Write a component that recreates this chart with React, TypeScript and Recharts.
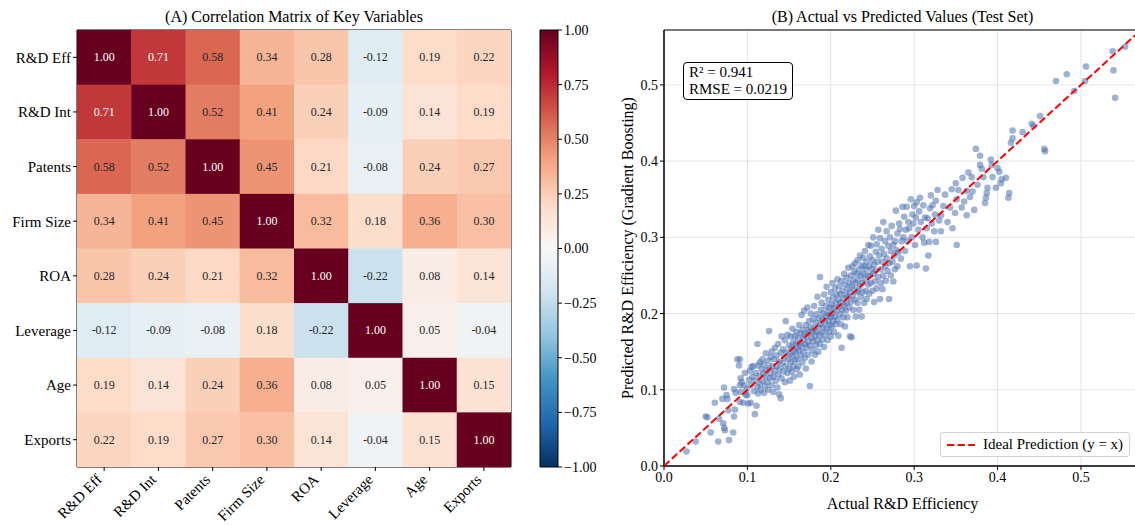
import {
  ScatterChart, Scatter, BarChart, Bar, XAxis, YAxis, CartesianGrid,
  ReferenceArea, Legend,
} from 'recharts';

const FONT = '"Liberation Serif", "Times New Roman", serif';

// ── Panel A data ──────────────────────────────────────────────────────────────

const variables = ['R&D Eff', 'R&D Int', 'Patents', 'Firm Size', 'ROA', 'Leverage', 'Age', 'Exports'];

const corrRows = [
  [1.00, 0.71, 0.58, 0.34, 0.28, -0.12, 0.19, 0.22],
  [0.71, 1.00, 0.52, 0.41, 0.24, -0.09, 0.14, 0.19],
  [0.58, 0.52, 1.00, 0.45, 0.21, -0.08, 0.24, 0.27],
  [0.34, 0.41, 0.45, 1.00, 0.32, 0.18, 0.36, 0.30],
  [0.28, 0.24, 0.21, 0.32, 1.00, -0.22, 0.08, 0.14],
  [-0.12, -0.09, -0.08, 0.18, -0.22, 1.00, 0.05, -0.04],
  [0.19, 0.14, 0.24, 0.36, 0.08, 0.05, 1.00, 0.15],
  [0.22, 0.19, 0.27, 0.30, 0.14, -0.04, 0.15, 1.00],
];

const colorbarTicks = [-1, -0.75, -0.5, -0.25, 0, 0.25, 0.5, 0.75, 1];

// ── Panel B data (actual, predicted) ──────────────────────────────────────────

const lowPoints = [
  [0.027, 0.019], [0.038, 0.032], [0.050, 0.065], [0.052, 0.064], [0.056, 0.044], [0.061, 0.083],
  [0.065, 0.032], [0.066, 0.062], [0.070, 0.088], [0.071, 0.056], [0.072, 0.050], [0.073, 0.047],
  [0.072, 0.103], [0.075, 0.093], [0.076, 0.088], [0.078, 0.034], [0.077, 0.073], [0.083, 0.044],
  [0.084, 0.065], [0.084, 0.101], [0.085, 0.074], [0.086, 0.096], [0.088, 0.140], [0.091, 0.140],
  [0.090, 0.132], [0.091, 0.106], [0.092, 0.097], [0.092, 0.115], [0.093, 0.110], [0.096, 0.106],
  [0.097, 0.122], [0.098, 0.093], [0.095, 0.083], [0.099, 0.101], [0.091, 0.084],
  [0.100, 0.093], [0.101, 0.082], [0.102, 0.113], [0.103, 0.125], [0.104, 0.083], [0.104, 0.106],
  [0.105, 0.130], [0.106, 0.117], [0.107, 0.131], [0.108, 0.098], [0.109, 0.068], [0.109, 0.112],
  [0.110, 0.122], [0.111, 0.079], [0.112, 0.104], [0.112, 0.160], [0.113, 0.132], [0.113, 0.095],
  [0.114, 0.118], [0.115, 0.108], [0.115, 0.136], [0.116, 0.100], [0.117, 0.127], [0.118, 0.112],
  [0.118, 0.140], [0.119, 0.121], [0.120, 0.096], [0.120, 0.133], [0.121, 0.105], [0.122, 0.148],
  [0.122, 0.118], [0.123, 0.126], [0.124, 0.110], [0.125, 0.138], [0.125, 0.100], [0.126, 0.177],
  [0.126, 0.129], [0.127, 0.115], [0.128, 0.143], [0.128, 0.122], [0.129, 0.106], [0.129, 0.150],
  [0.130, 0.131],
];

const midPoints = [
  [0.131, 0.117], [0.131, 0.097], [0.132, 0.140], [0.133, 0.125], [0.133, 0.155], [0.134, 0.112],
  [0.135, 0.145], [0.135, 0.131], [0.136, 0.103], [0.137, 0.120], [0.137, 0.160], [0.138, 0.094],
  [0.138, 0.137], [0.139, 0.128], [0.140, 0.149], [0.140, 0.089], [0.141, 0.115], [0.141, 0.170],
  [0.142, 0.135], [0.143, 0.124], [0.143, 0.153], [0.144, 0.142], [0.145, 0.110], [0.145, 0.165],
  [0.146, 0.190], [0.146, 0.131], [0.147, 0.149], [0.148, 0.122], [0.148, 0.172], [0.149, 0.140],
  [0.150, 0.158], [0.150, 0.128], [0.151, 0.112], [0.151, 0.147], [0.152, 0.170], [0.152, 0.136],
  [0.153, 0.155], [0.153, 0.124], [0.154, 0.180], [0.154, 0.144], [0.155, 0.162], [0.155, 0.131],
  [0.156, 0.151], [0.156, 0.117], [0.157, 0.170], [0.157, 0.139], [0.158, 0.160], [0.158, 0.148],
  [0.159, 0.127], [0.159, 0.176], [0.160, 0.155],
  [0.160, 0.140], [0.161, 0.168], [0.161, 0.131], [0.162, 0.185], [0.162, 0.152], [0.163, 0.161],
  [0.163, 0.120], [0.164, 0.174], [0.164, 0.145], [0.165, 0.198], [0.165, 0.158], [0.166, 0.136],
  [0.166, 0.179], [0.167, 0.166], [0.167, 0.150], [0.168, 0.204], [0.168, 0.172], [0.169, 0.142],
  [0.169, 0.160], [0.170, 0.185], [0.170, 0.128], [0.171, 0.170], [0.171, 0.155], [0.172, 0.208],
  [0.172, 0.178], [0.173, 0.146], [0.173, 0.163], [0.174, 0.190], [0.174, 0.175], [0.175, 0.105],
  [0.175, 0.158], [0.176, 0.182], [0.176, 0.200], [0.177, 0.168], [0.177, 0.137], [0.178, 0.176],
  [0.178, 0.152], [0.179, 0.193], [0.179, 0.164], [0.180, 0.210], [0.180, 0.180], [0.181, 0.146],
  [0.181, 0.171], [0.182, 0.188], [0.182, 0.158], [0.183, 0.199], [0.183, 0.176], [0.184, 0.165],
  [0.184, 0.222], [0.185, 0.183], [0.185, 0.150], [0.186, 0.194], [0.186, 0.172], [0.187, 0.248],
  [0.187, 0.160], [0.188, 0.186], [0.188, 0.205], [0.189, 0.175], [0.189, 0.214], [0.190, 0.192],
  [0.190, 0.166], [0.191, 0.181], [0.191, 0.200], [0.192, 0.156], [0.192, 0.225], [0.193, 0.188],
  [0.193, 0.172], [0.194, 0.210], [0.194, 0.196], [0.195, 0.180], [0.195, 0.235], [0.196, 0.165],
  [0.196, 0.203], [0.197, 0.190], [0.197, 0.218], [0.198, 0.176], [0.198, 0.198], [0.199, 0.208],
  [0.199, 0.185], [0.200, 0.228], [0.200, 0.170], [0.200, 0.195],
];

const upperPoints = [
  [0.201, 0.212], [0.201, 0.183], [0.202, 0.240], [0.202, 0.200], [0.203, 0.190], [0.203, 0.221],
  [0.204, 0.176], [0.204, 0.207], [0.205, 0.233], [0.205, 0.196], [0.206, 0.214], [0.206, 0.186],
  [0.207, 0.225], [0.207, 0.204], [0.208, 0.245], [0.208, 0.192], [0.209, 0.218], [0.209, 0.171],
  [0.210, 0.209], [0.210, 0.236], [0.211, 0.199], [0.211, 0.226], [0.212, 0.186], [0.212, 0.214],
  [0.213, 0.155], [0.213, 0.243], [0.214, 0.205], [0.214, 0.230], [0.215, 0.195], [0.215, 0.220],
  [0.216, 0.252], [0.216, 0.211], [0.217, 0.183], [0.217, 0.238], [0.218, 0.224], [0.218, 0.204],
  [0.219, 0.247], [0.219, 0.214], [0.220, 0.195], [0.220, 0.232], [0.221, 0.260], [0.221, 0.222],
  [0.222, 0.208], [0.222, 0.240], [0.223, 0.170], [0.223, 0.228], [0.224, 0.250], [0.224, 0.215],
  [0.225, 0.169], [0.225, 0.236], [0.226, 0.262], [0.226, 0.223], [0.227, 0.244], [0.227, 0.205],
  [0.228, 0.232], [0.228, 0.255], [0.229, 0.218], [0.229, 0.266], [0.230, 0.240], [0.230, 0.196],
  [0.231, 0.228], [0.231, 0.252], [0.232, 0.214], [0.232, 0.270], [0.233, 0.244], [0.233, 0.230],
  [0.234, 0.258], [0.234, 0.205], [0.235, 0.236], [0.235, 0.276], [0.236, 0.222], [0.236, 0.250],
  [0.237, 0.196], [0.237, 0.263], [0.238, 0.240], [0.238, 0.228], [0.239, 0.273], [0.239, 0.252],
  [0.240, 0.214], [0.240, 0.262],
  [0.241, 0.245], [0.241, 0.282], [0.242, 0.230], [0.242, 0.258], [0.243, 0.268], [0.243, 0.219],
  [0.244, 0.250], [0.245, 0.290], [0.245, 0.238], [0.246, 0.262], [0.246, 0.226], [0.247, 0.275],
  [0.247, 0.250], [0.248, 0.289], [0.248, 0.240], [0.249, 0.258], [0.250, 0.230], [0.250, 0.270],
  [0.251, 0.300], [0.251, 0.252], [0.252, 0.215], [0.252, 0.264], [0.253, 0.242], [0.254, 0.281],
  [0.254, 0.256], [0.255, 0.291], [0.255, 0.233], [0.256, 0.268], [0.257, 0.248], [0.257, 0.310],
  [0.258, 0.276], [0.259, 0.219], [0.259, 0.299], [0.260, 0.258], [0.260, 0.240], [0.261, 0.285],
  [0.262, 0.268], [0.262, 0.232], [0.263, 0.320], [0.263, 0.250], [0.264, 0.278], [0.265, 0.262],
  [0.265, 0.295], [0.266, 0.243], [0.267, 0.308], [0.267, 0.272], [0.268, 0.256], [0.269, 0.289],
  [0.270, 0.219], [0.270, 0.266], [0.271, 0.300], [0.272, 0.250], [0.272, 0.282], [0.273, 0.315],
  [0.274, 0.268], [0.275, 0.242], [0.275, 0.290], [0.276, 0.276], [0.277, 0.295], [0.277, 0.258],
  [0.278, 0.335], [0.279, 0.283], [0.280, 0.262], [0.280, 0.305],
];

const highPoints = [
  [0.281, 0.280], [0.282, 0.318], [0.283, 0.311], [0.284, 0.272], [0.285, 0.295], [0.286, 0.340],
  [0.287, 0.300], [0.288, 0.327], [0.289, 0.282], [0.290, 0.310], [0.291, 0.340], [0.292, 0.295],
  [0.293, 0.320], [0.294, 0.312], [0.295, 0.262], [0.296, 0.350], [0.297, 0.300], [0.298, 0.330],
  [0.299, 0.318], [0.300, 0.341], [0.301, 0.290], [0.302, 0.326], [0.303, 0.346], [0.303, 0.263],
  [0.305, 0.310], [0.306, 0.334], [0.307, 0.352], [0.308, 0.320], [0.310, 0.300], [0.311, 0.342],
  [0.312, 0.293], [0.313, 0.326], [0.314, 0.259], [0.315, 0.312], [0.316, 0.325], [0.317, 0.276],
  [0.318, 0.294], [0.319, 0.338], [0.320, 0.355], [0.321, 0.318], [0.322, 0.342], [0.324, 0.308],
  [0.325, 0.330], [0.326, 0.294], [0.326, 0.348], [0.328, 0.362], [0.330, 0.322], [0.332, 0.308],
  [0.332, 0.329],
  [0.335, 0.341], [0.337, 0.356], [0.340, 0.320], [0.343, 0.339], [0.345, 0.363], [0.346, 0.312],
  [0.349, 0.332], [0.350, 0.371], [0.351, 0.290], [0.351, 0.350], [0.353, 0.362], [0.357, 0.339],
  [0.358, 0.378], [0.360, 0.347], [0.363, 0.361], [0.363, 0.329], [0.365, 0.385], [0.367, 0.353],
  [0.369, 0.379], [0.370, 0.360], [0.372, 0.336], [0.374, 0.416], [0.376, 0.369], [0.379, 0.407],
  [0.379, 0.395], [0.381, 0.390], [0.383, 0.379], [0.385, 0.345], [0.386, 0.352], [0.387, 0.358],
  [0.388, 0.365], [0.392, 0.402], [0.393, 0.395], [0.394, 0.379], [0.398, 0.365], [0.400, 0.391],
  [0.402, 0.386], [0.404, 0.371], [0.405, 0.376], [0.410, 0.378], [0.413, 0.352], [0.414, 0.358],
  [0.416, 0.424], [0.418, 0.440], [0.418, 0.430], [0.430, 0.438], [0.441, 0.449], [0.443, 0.446],
  [0.451, 0.459], [0.456, 0.416], [0.457, 0.413], [0.470, 0.505], [0.483, 0.514], [0.492, 0.492],
  [0.505, 0.505], [0.506, 0.524], [0.538, 0.544], [0.539, 0.519], [0.541, 0.483], [0.553, 0.550],
];

const axisTicks = [0, 0.1, 0.2, 0.3, 0.4, 0.5];
const AXIS_MAX = 0.572;

// ideal prediction line, y = x across the axis range
const idealLine = [{ x: 0, y: 0 }, { x: AXIS_MAX, y: AXIS_MAX }];

// ── Colour map (RdBu_r) ───────────────────────────────────────────────────────

const rdbuStops = ['#053061', '#2166ac', '#4393c3', '#92c5de', '#d1e5f0', '#f7f7f7', '#fddbc7', '#f4a582', '#d6604d', '#b2182b', '#67001f'];

function hexToRgb(h: string) {
  return [1, 3, 5].map(i => parseInt(h.slice(i, i + 2), 16));
}

function rdbu(v: number) {
  const t = Math.max(0, Math.min(1, (v + 1) / 2)) * (rdbuStops.length - 1);
  const i = Math.min(Math.floor(t), rdbuStops.length - 2);
  const f = t - i;
  const a = hexToRgb(rdbuStops[i]);
  const b = hexToRgb(rdbuStops[i + 1]);
  const c = a.map((x, k) => Math.round(x + (b[k] - x) * f));
  return `rgb(${c[0]},${c[1]},${c[2]})`;
}

// ── Heatmap pieces ────────────────────────────────────────────────────────────

const HM_W = 434;
const HM_H = 437;

const cells = corrRows.flatMap((row, r) => row.map((v, c) => ({ col: c, row: r, v })));

// eslint-disable-next-line @typescript-eslint/no-explicit-any
function HeatCell(props: any) {
  const { cx, cy, payload } = props;
  const w = HM_W / variables.length;
  const h = HM_H / variables.length;
  return (
    <g>
      <rect x={cx - w / 2} y={cy - h / 2} width={w + 0.5} height={h + 0.5} fill={rdbu(payload.v)} />
      <text
        x={cx} y={cy} textAnchor="middle" dominantBaseline="central"
        fontSize={12} fill={payload.v > 0.6 ? '#ffffff' : '#262626'}
      >
        {payload.v.toFixed(2)}
      </text>
    </g>
  );
}

// eslint-disable-next-line @typescript-eslint/no-explicit-any
function RotatedTick({ x, y, payload }: any) {
  const ax = x - 5;
  const ay = y + 4;
  return (
    <text
      x={ax} y={ay} textAnchor="end" dominantBaseline="central"
      fontSize={15} fill="#000" transform={`rotate(-45, ${ax}, ${ay})`}
    >
      {variables[payload.value]}
    </text>
  );
}

// eslint-disable-next-line @typescript-eslint/no-explicit-any
function Dot({ cx, cy }: any) {
  return <circle cx={cx} cy={cy} r={3.3} fill="#4C72B0" fillOpacity={0.55} />;
}

const NoMarker = () => <g />;

const scatterPoints = [...lowPoints, ...midPoints, ...upperPoints, ...highPoints].map(([x, y]) => ({ x, y }));

const tickStyle = { fontSize: 14, fill: '#000' };
const minus = (v: number) => v.toFixed(2).replace('-', '\u2212');

export default function App() {
  return (
    <div style={{
      position: 'absolute', left: 0, top: 0, width: 1135, height: 525,
      overflow: 'hidden', background: '#fff', fontFamily: FONT, color: '#000',
    }}>
      {/* Titles */}
      <div style={{ position: 'absolute', left: 77, top: 7, width: 434, textAlign: 'center', fontSize: 16, lineHeight: '19px' }}>
        (A) Correlation Matrix of Key Variables
      </div>
      <div style={{ position: 'absolute', left: 664, top: 7, width: 477, textAlign: 'center', fontSize: 16, lineHeight: '19px' }}>
        (B) Actual vs Predicted Values (Test Set)
      </div>

      {/* Panel A: heatmap */}
      <div style={{ position: 'absolute', left: 0, top: 0 }}>
        <ScatterChart width={530} height={525} margin={{ top: 30, right: 19, bottom: 0, left: 0 }}>
          <XAxis
            type="number" dataKey="col" domain={[-0.5, 7.5]} ticks={[0, 1, 2, 3, 4, 5, 6, 7]}
            interval={0} height={58} axisLine={false} tickSize={4}
            tickLine={{ stroke: '#000' }} tick={<RotatedTick />} allowDataOverflow
          />
          <YAxis
            type="number" dataKey="row" domain={[-0.5, 7.5]} ticks={[0, 1, 2, 3, 4, 5, 6, 7]}
            reversed interval={0} width={77} axisLine={false} tickSize={4}
            tickLine={{ stroke: '#000' }} tick={{ fontSize: 15, fill: '#000' }}
            tickFormatter={(v: number) => variables[v]} allowDataOverflow
          />
          <Scatter data={cells} shape={<HeatCell />} isAnimationActive={false} />
          <ReferenceArea x1={-0.5} x2={7.5} y1={-0.5} y2={7.5} fill="none" fillOpacity={0} stroke="#000" strokeWidth={1} />
        </ScatterChart>
      </div>

      {/* Colorbar */}
      <div style={{ position: 'absolute', left: 530, top: 0 }}>
        <BarChart
          width={80} height={525} margin={{ top: 30, right: 0, bottom: 58, left: 10 }}
          data={[{ name: 'scale', range: [-1, 1] }]} barCategoryGap={0}
        >
          <defs>
            <linearGradient id="cbar" x1="0" y1="1" x2="0" y2="0">
              {rdbuStops.map((c, i) => (
                <stop key={i} offset={`${(i / (rdbuStops.length - 1)) * 100}%`} stopColor={c} />
              ))}
            </linearGradient>
          </defs>
          <XAxis dataKey="name" hide />
          <YAxis
            type="number" orientation="right" domain={[-1, 1]} ticks={colorbarTicks} interval={0}
            width={52} axisLine={false} tickSize={4} tickLine={{ stroke: '#000' }}
            tick={tickStyle} tickFormatter={minus}
          />
          <Bar dataKey="range" fill="url(#cbar)" stroke="#000" strokeWidth={1} isAnimationActive={false} />
        </BarChart>
      </div>

      {/* Panel B: actual vs predicted */}
      <div style={{ position: 'absolute', left: 590, top: 0 }}>
        <ScatterChart width={551} height={525} margin={{ top: 30, right: 0, bottom: 0, left: 0 }}>
          <CartesianGrid stroke="#e4e4e4" strokeWidth={1} />
          <XAxis
            type="number" dataKey="x" domain={[0, AXIS_MAX]} ticks={axisTicks} interval={0}
            height={59} tickSize={4} axisLine={{ stroke: '#000' }} tickLine={{ stroke: '#000' }}
            tick={tickStyle} tickFormatter={(v: number) => v.toFixed(1)} allowDataOverflow
            label={{ value: 'Actual R&D Efficiency', position: 'insideBottom', offset: 16, fontSize: 16, fill: '#000' }}
          />
          <YAxis
            type="number" dataKey="y" domain={[0, AXIS_MAX]} ticks={axisTicks} interval={0}
            width={74} tickSize={4} axisLine={{ stroke: '#000' }} tickLine={{ stroke: '#000' }}
            tick={tickStyle} tickFormatter={(v: number) => v.toFixed(1)} allowDataOverflow
            label={{ value: 'Predicted R&D Efficiency (Gradient Boosting)', angle: -90, position: 'center', fontSize: 16, fill: '#000' }}
          />
          <Scatter data={scatterPoints} shape={<Dot />} isAnimationActive={false} />
          <Scatter
            data={idealLine} shape={<NoMarker />} isAnimationActive={false}
            line={{ stroke: '#ff0000', strokeWidth: 2, strokeDasharray: '7.4 3.2' }}
          />
          <ReferenceArea x1={0} x2={AXIS_MAX} y1={0} y2={AXIS_MAX} fill="none" fillOpacity={0} stroke="#000" strokeWidth={1} />
          <Legend
            layout="horizontal" verticalAlign="middle" align="center"
            wrapperStyle={{ left: 350, top: 432, width: 'auto', height: 'auto' }}
            content={() => (
              <div style={{
                display: 'flex', alignItems: 'center', background: '#fff',
                border: '1px solid #d3d3d3', borderRadius: 3, padding: '2px 6px 2px 6px',
                fontSize: 15, lineHeight: '19px', fontFamily: FONT,
              }}>
                <svg width={28} height={4} style={{ marginRight: 8 }}>
                  <line x1={0} y1={2} x2={28} y2={2} stroke="#ff0000" strokeWidth={2} strokeDasharray="7.4 3.2" />
                </svg>
                <span>Ideal Prediction (y = x)</span>
              </div>
            )}
          />
        </ScatterChart>
      </div>

      {/* Metrics box */}
      <div style={{
        position: 'absolute', left: 683, top: 62, border: '1px solid #000', borderRadius: 4,
        background: '#fff', padding: '1px 5px', fontSize: 15, lineHeight: '17px',
      }}>
        <div>R² = 0.941</div>
        <div>RMSE = 0.0219</div>
      </div>
    </div>
  );
}
